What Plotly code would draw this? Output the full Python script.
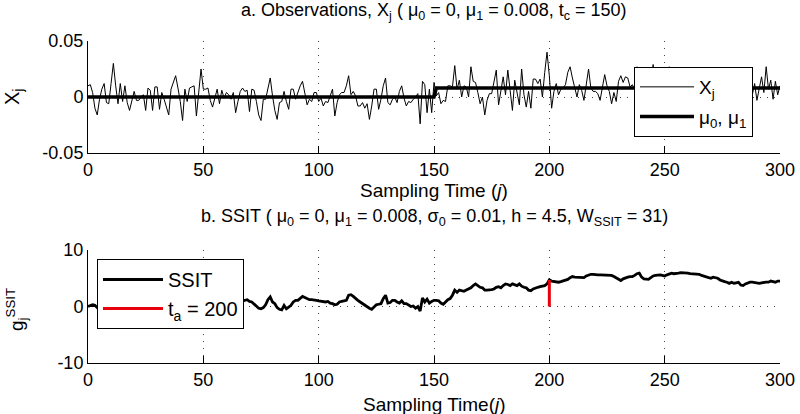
import plotly.graph_objects as go

# ---------------- data ----------------
j_obs = list(range(0, 301))
x_obs = [
    0.010, 0.011, 0.004, -0.010, -0.016, -0.002, 0.007, 0.012, -0.005, -0.006,
    0.012, 0.030, 0.010, -0.006, 0.012, -0.004, 0.010, -0.005, -0.012, -0.004,
    0.005, -0.003, -0.003, 0.000, 0.002, -0.012, 0.008, 0.006, -0.012, 0.009,
    0.009, -0.011, 0.004, -0.002, -0.008, -0.016, 0.007, 0.013, 0.019, 0.008,
    -0.004, -0.021, 0.007, -0.004, 0.008, 0.009, 0.010, -0.017, 0.005, 0.025,
    0.007, 0.007, 0.008, -0.003, -0.009, -0.001, 0.007, -0.006, 0.006, -0.001,
    0.004, 0.002, -0.002, 0.004, -0.014, -0.004, 0.005, 0.008, 0.005, 0.006,
    -0.013, 0.007, 0.006, -0.004, -0.016, -0.021, -0.002, -0.002, 0.007, 0.017,
    0.001, -0.012, -0.020, -0.005, -0.004, 0.005, -0.004, -0.011, 0.007, 0.007,
    -0.002, 0.005, 0.010, 0.014, 0.004, -0.007, -0.002, -0.004, 0.004, 0.004,
    -0.004, -0.001, -0.008, -0.004, -0.005, 0.001, 0.007, -0.017, -0.005, 0.002,
    0.004, 0.004, 0.010, 0.019, 0.002, 0.005, 0.001, -0.008, -0.008, -0.005,
    -0.010, -0.006, -0.020, -0.008, 0.007, 0.007, -0.011, -0.002, 0.010, 0.017,
    -0.005, -0.007, -0.002, 0.000, -0.005, 0.005, 0.010, -0.001, -0.008, -0.004,
    -0.005, -0.002, 0.000, 0.003, -0.024, 0.014, 0.011, -0.014, 0.007, -0.014,
    0.013, 0.001, 0.004, -0.006, -0.003, -0.004, 0.010, 0.010, 0.009, 0.028,
    0.007, 0.015, 0.000, 0.010, 0.009, 0.000, 0.027, 0.014, 0.013, 0.004,
    -0.006, 0.000, -0.016, -0.003, 0.003, 0.003, 0.012, 0.024, -0.007, 0.007,
    0.018, 0.002, 0.024, 0.006, -0.012, 0.015, 0.003, -0.007, 0.025, 0.002,
    -0.009, 0.005, -0.010, 0.016, 0.016, 0.012, 0.016, 0.000, 0.022, 0.040,
    0.019, -0.010, 0.005, 0.012, 0.002, 0.007, 0.008, 0.011, 0.022, 0.027,
    0.017, 0.007, 0.000, 0.011, 0.006, -0.003, 0.011, 0.025, 0.008, 0.005,
    0.005, 0.003, -0.003, 0.010, 0.020, 0.010, 0.005, -0.006, 0.004, -0.004,
    0.014, 0.019, 0.013, 0.018, 0.017, 0.009, 0.011, 0.006, 0.027, 0.004,
    -0.008, 0.012, 0.018, -0.002, 0.010, 0.029, 0.005, -0.006, 0.014, 0.002,
    0.020, 0.009, 0.027, -0.004, 0.011, 0.016, -0.009, 0.007, 0.013, 0.001,
    0.019, 0.006, -0.005, 0.010, 0.015, -0.003, 0.008, 0.021, 0.004, -0.007,
    0.012, 0.009, 0.017, 0.000, 0.011, -0.010, 0.014, 0.006, 0.019, 0.003,
    -0.004, 0.013, 0.008, 0.022, 0.005, -0.006, 0.010, 0.016, 0.002, 0.012,
    -0.003, 0.009, 0.018, 0.004, 0.027, 0.007, 0.015, -0.002, 0.014, 0.002,
    0.010,
]
mu_j = [0, 150, 151, 300]
mu_vals = [0.0, 0.0, 0.008, 0.008]

j_ssit = list(range(0, 301))
g_ssit = [
    0.0, 0.1, 0.3, 0.2, -0.2, 0.1, 0.6, 1.2, 0.9, 0.4,
    1.0, 2.1, 1.8, 1.2, 1.5, 1.1, 1.4, 1.0, 0.5, 0.3,
    0.6, 0.4, 0.2, 0.2, 0.3, -0.2, 0.2, 0.4, -0.1, 0.3,
    0.6, 0.1, 0.3, 0.2, -0.1, -0.6, -0.3, 0.2, 0.9, 1.1,
    0.9, 0.1, 0.3, 0.2, 0.5, 0.8, 1.1, 0.4, 0.6, 1.5,
    1.7, 1.8, 1.9, 1.6, 1.2, 1.1, 1.4, 1.1, 1.3, 1.2,
    1.3, 1.3, 1.2, 1.3, 0.8, 0.6, 0.8, 1.0, 1.1, 1.2,
    0.9, 0.8, 0.4, 0.0, -0.3, -0.4, -0.2, 0.3, 1.2, 1.7,
    0.8, 0.5, -0.2, -0.5, -0.6, 0.2, -0.4, -0.1, 0.2, 0.8,
    1.1, 1.1, 1.4, 1.8, 1.6, 1.4, 1.2, 1.2, 1.2, 1.1,
    1.0, 0.9, 0.8, 0.8, 0.9, 0.6, 0.5, 0.3, 0.4, 0.8,
    0.9, 1.0, 1.1, 2.0, 2.1, 1.8, 1.4, 1.1, 0.8, 0.5,
    0.3, 0.0, -0.3, -0.5, -0.1, 0.3, 0.4, 0.5, 1.4, 2.0,
    0.6, 0.7, 1.1, 1.1, 0.8, 0.6, 1.0, 0.5, 0.5, 0.3,
    0.0, 0.1, -0.3, 0.0, -0.8, 1.5, 0.8, 1.3, 0.6, 0.9,
    1.1, 1.1, 1.0, 0.6, 0.4, 0.8, 1.2, 1.4, 2.0, 2.9,
    2.5, 2.9, 2.8, 2.7, 2.9, 3.1, 3.3, 3.7, 4.0, 3.7,
    3.4, 3.3, 2.9, 2.9, 2.9, 3.0, 3.1, 3.4, 3.5, 3.3,
    3.7, 4.0, 3.9, 3.7, 4.0, 3.9, 3.7, 4.0, 3.6, 3.4,
    3.3, 2.9, 2.8, 3.1, 3.3, 3.4, 3.5, 3.6, 3.7, 4.0,
    4.7, 4.5, 4.4, 4.3, 4.3, 4.4, 4.5, 4.6, 4.8, 5.1,
    5.3, 5.2, 5.2, 5.2, 5.2, 5.1, 5.4, 5.6, 5.7, 5.7,
    5.6, 5.6, 5.6, 5.6, 5.6, 5.5, 5.5, 5.5, 5.3, 5.1,
    4.8, 4.6, 4.9, 5.1, 5.2, 5.3, 5.3, 5.5, 5.8, 5.9,
    5.2, 4.9, 4.8, 4.8, 5.1, 5.4, 5.5, 5.6, 5.6, 5.5,
    5.4, 5.6, 5.8, 5.9, 5.8, 5.8, 5.9, 6.0, 6.0, 5.9,
    5.9, 5.8, 5.8, 5.8, 5.7, 5.7, 5.5, 5.4, 5.3, 5.1,
    5.0, 5.2, 5.1, 5.0, 4.7, 4.5, 4.4, 4.3, 4.1, 4.3,
    4.1, 4.2, 4.3, 3.8, 3.7, 4.0, 4.2, 4.3, 4.3, 4.2,
    4.2, 4.1, 4.2, 4.3, 4.3, 4.3, 4.5, 4.4, 4.3, 4.5,
    4.5,
]
ta_j = [200, 200]
ta_vals = [0.0, 4.7]

x_ticks = [0, 50, 100, 150, 200, 250, 300]
y1_ticks = [-0.05, 0, 0.05]
y1_text = ["-0.05", "0", "0.05"]
y2_ticks = [-10, 0, 10]
y2_text = ["-10", "0", "10"]

FONT = "Liberation Sans Narrow, Liberation Sans, Arial, sans-serif"

fig = go.Figure()
fig.add_trace(go.Scatter(x=j_obs, y=x_obs, mode="lines", name="X<sub>j</sub>",
                         line=dict(color="black", width=1), xaxis="x", yaxis="y",
                         legend="legend", legendgroup="a"))
fig.add_trace(go.Scatter(x=mu_j, y=mu_vals, mode="lines", name="μ<sub>0</sub>, μ<sub>1</sub>",
                         line=dict(color="black", width=3.5), xaxis="x", yaxis="y",
                         legend="legend", legendgroup="b"))
fig.add_trace(go.Scatter(x=j_ssit, y=g_ssit, mode="lines", name="SSIT",
                         line=dict(color="black", width=2.8), xaxis="x2", yaxis="y2",
                         legend="legend2"))
fig.add_trace(go.Scatter(x=ta_j, y=ta_vals, mode="lines", name="t<sub>a</sub> = 200",
                         line=dict(color="#e8000b", width=3), xaxis="x2", yaxis="y2",
                         legend="legend2"))

W, H = 800, 414
def py(p):
    return 1 - p / H

axis_common = dict(showline=True, linecolor="black", linewidth=1, mirror=False,
                   ticks="inside", ticklen=7, tickcolor="black", automargin=False,
                   showgrid=True, gridcolor="#444", griddash="1px,6px", gridwidth=1,
                   zeroline=False, tickfont=dict(family=FONT, size=18, color="black"))

fig.update_layout(
    template="none",
    width=W, height=H,
    margin=dict(l=0, r=0, t=0, b=0, pad=0),
    paper_bgcolor="white", plot_bgcolor="white",
    font=dict(family=FONT, color="black"),
    showlegend=True,
    xaxis=dict(domain=[88 / W, 780 / W], range=[0, 300], tickvals=x_ticks,
               anchor="y", **axis_common),
    yaxis=dict(domain=[py(153), py(41)], range=[-0.05, 0.05], tickvals=y1_ticks,
               ticktext=y1_text, anchor="x", **axis_common),
    xaxis2=dict(domain=[88 / W, 780 / W], range=[0, 300], tickvals=x_ticks,
                anchor="y2", **axis_common),
    yaxis2=dict(domain=[py(363), py(250)], range=[-10, 10], tickvals=y2_ticks,
                ticktext=y2_text, anchor="x2", **axis_common),
    legend=dict(x=634 / W, y=py(67), xanchor="left", yanchor="top",
                bgcolor="white", bordercolor="black", borderwidth=1,
                font=dict(family=FONT, size=19, color="black"),
                itemwidth=54, tracegroupgap=2, traceorder="grouped"),
    legend2=dict(x=97 / W, y=py(259), xanchor="left", yanchor="top",
                 bgcolor="white", bordercolor="black", borderwidth=1,
                 font=dict(family=FONT, size=20, color="black"),
                 itemwidth=60),
    annotations=[
        dict(text="a. Observations, X<sub>j</sub> ( μ<sub>0</sub> = 0, μ<sub>1</sub> = 0.008, t<sub>c</sub> = 150)",
             x=434 / W, y=py(11), xref="paper", yref="paper", showarrow=False,
             font=dict(family=FONT, size=18), xanchor="center", yanchor="middle"),
        dict(text="Sampling Time (<i>j</i>)", x=434 / W, y=py(190), xref="paper", yref="paper",
             showarrow=False, font=dict(family=FONT, size=19), xanchor="center", yanchor="middle"),
        dict(text="b. SSIT ( μ<sub>0</sub> = 0, μ<sub>1</sub> = 0.008, σ<sub>0</sub> = 0.01, h = 4.5, W<sub>SSIT</sub> = 31)",
             x=434 / W, y=py(217), xref="paper", yref="paper", showarrow=False,
             font=dict(family=FONT, size=18), xanchor="center", yanchor="middle"),
        dict(text="Sampling Time(<i>j</i>)", x=434 / W, y=py(404), xref="paper", yref="paper",
             showarrow=False, font=dict(family=FONT, size=19), xanchor="center", yanchor="middle"),
        dict(text="X<sub>j</sub>", x=13 / W, y=py(97), xref="paper", yref="paper",
             showarrow=False, textangle=-90, font=dict(family=FONT, size=20),
             xanchor="center", yanchor="middle"),
        dict(text="g<sub>j</sub><sup>SSIT</sup>", x=16 / W, y=py(310), xref="paper", yref="paper",
             showarrow=False, textangle=-90, font=dict(family=FONT, size=19),
             xanchor="center", yanchor="middle"),
    ],
)

fig.write_html("out.html")
